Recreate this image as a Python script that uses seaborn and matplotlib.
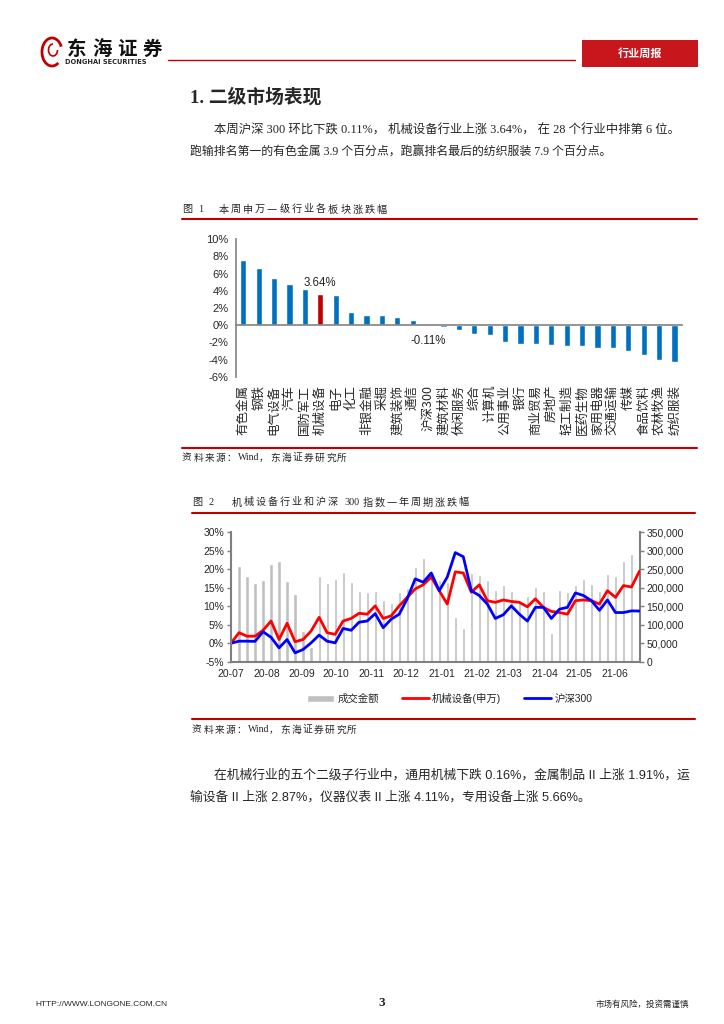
import re
import numpy as np
import pandas as pd
import seaborn as sns
import matplotlib.pyplot as plt
from matplotlib.patches import Rectangle, Arc, Patch
from matplotlib.lines import Line2D

# 图1：本周申万一级行业涨跌幅（%）
industries = ["有色金属", "钢铁", "电气设备", "汽车", "国防军工", "机械设备", "电子", "化工",
              "非银金融", "采掘", "建筑装饰", "通信", "沪深300", "建筑材料", "休闲服务", "综合",
              "计算机", "公用事业", "银行", "商业贸易", "房地产", "轻工制造", "医药生物",
              "家用电器", "交通运输", "传媒", "食品饮料", "农林牧渔", "纺织服装"]
weekly_change = [7.54, 6.62, 5.55, 4.80, 4.26, 3.64, 3.55, 1.52, 1.21, 1.21, 0.98, 0.63,
                 -0.11, -0.27, -0.58, -1.05, -1.16, -1.98, -2.20, -2.20, -2.33, -2.44, -2.44,
                 -2.70, -2.70, -3.06, -3.45, -4.00, -4.26]
highlight = "机械设备"

# 图2：一年周期涨跌幅（%）与成交金额，按周
machinery = [0.0, 2.85, 1.9, 1.9, 3.5, 6.0, 1.0, 5.4, 0.4, 1.0,
             3.3, 7.0, 2.85, 2.4, 6.0, 6.7, 8.1, 7.85, 10.1, 6.7,
             7.4, 10.1, 12.4, 14.7, 15.8, 17.9, 14.2, 10.6, 19.3, 19.0,
             13.8, 15.8, 11.5, 11.05, 11.7, 11.3, 11.05, 9.85, 12.0, 9.7,
             8.6, 8.3, 7.85, 11.5, 11.7, 11.5, 10.6, 14.2, 12.4, 15.6,
             15.2, 19.5]
hs300 = [0.0, 0.55, 0.55, 0.5, 3.1, 1.6, -1.25, 1.0, -2.6, -1.7,
         0.1, 2.2, 0.55, 0.1, 4.0, 3.5, 5.7, 6.0, 8.0, 4.2,
         6.5, 7.85, 12.0, 17.4, 16.5, 19.0, 14.2, 17.9, 24.5, 23.4,
         14.2, 12.9, 10.6, 6.7, 7.7, 10.1, 7.85, 6.0, 9.7, 9.7,
         6.7, 9.2, 9.7, 13.6, 12.9, 11.5, 8.9, 11.7, 8.3, 8.3,
         8.75, 8.7]
turnover = [260000, 231000, 212000, 221000, 263000, 273000, 219000, 182000, 83000, 39000,
            231000, 212000, 224000, 243000, 216000, 192000, 188000, 190000, 167000, 160000,
            189000, 200000, 256000, 280000, 238000, 221000, 215000, 122000, 92000, 240000,
            235000, 220000, 194000, 208000, 192000, 165000, 178000, 202000, 192000, 78000,
            195000, 189000, 208000, 224000, 210000, 192000, 238000, 233000, 273000, 292000]
month_labels = ["20-07", "20-08", "20-09", "20-10", "20-11", "20-12",
                "21-01", "21-02", "21-03", "21-04", "21-05", "21-06"]
start_date = "2020-07-01"

RED = "#C00000"
GRAY = "#868686"
CJK = ["Noto Sans CJK SC", "DejaVu Sans"]
SERIF_CJK = ["Liberation Serif", "Noto Sans CJK SC"]

sns.set_theme(style="white")
plt.rcParams["font.family"] = ["Liberation Sans", "Noto Sans CJK SC"]
plt.rcParams["axes.unicode_minus"] = False

W, H = 724, 1024
fig = plt.figure(figsize=(W / 100, H / 100), dpi=100)
fig.patch.set_facecolor("white")

# 整页的像素坐标层
page = fig.add_axes([0, 0, 1, 1])
page.set_xlim(0, W)
page.set_ylim(H, 0)
page.axis("off")


def px_axes(left, top, right, bottom):
    return fig.add_axes([left / W, 1 - bottom / H, (right - left) / W, (bottom - top) / H])


def spaced_text(x, y, s, size, wide, narrow):
    """中文逐字排版（模仿原文字距），西文词整体输出。"""
    for tok in re.findall(r"[A-Za-z0-9.%]+|\s|.", s):
        if not tok.isspace():
            page.text(x, y, tok, fontsize=size, family=SERIF_CJK, va="center")
        x += wide if ord(tok[0]) > 0x2000 else narrow * len(tok)


# ---- 页眉 ----
page.add_patch(Arc((52, 52), 20, 28, theta1=60, theta2=330, color="#C00000", lw=2))
page.add_patch(Arc((53, 50), 9, 12, theta1=0, theta2=270, color="#C00000", lw=1.2))
for i, ch in enumerate("东海证券"):
    page.text(77 + i * 25, 49, ch, fontsize=14, fontweight="bold", family=CJK,
              ha="center", va="center", color="#111111")
page.text(65, 62.5, "DONGHAI SECURITIES", fontsize=4.8, fontweight="bold",
          family="DejaVu Sans", va="center")
page.plot([168, 575], [60, 60], color=RED, lw=1)
page.add_patch(Rectangle((582, 40), 116, 27, facecolor="#C8161D", edgecolor="none"))
page.text(640, 53.5, "行业周报", color="white", fontsize=8, fontweight="bold",
          family=CJK, ha="center", va="center")

# ---- 正文 ----
page.text(190, 97, "1. 二级市场表现", fontsize=13.5, fontweight="bold", family=SERIF_CJK,
          va="center")
page.text(214, 131, "本周沪深 300 环比下跌 0.11%， 机械设备行业上涨 3.64%， 在 28 个行业中排第 6 位。",
          fontsize=8.9, family=SERIF_CJK, va="center")
page.text(190, 153, "跑输排名第一的有色金属 3.9 个百分点，跑赢排名最后的纺织服装 7.9 个百分点。",
          fontsize=8.6, family=SERIF_CJK, va="center")

spaced_text(182, 209.5, "图 1    本周申万一级行业各板块涨跌幅", 7.3, 12.2, 4.0)
page.plot([182, 697], [219, 219], color=RED, lw=1.5)
page.plot([182, 697], [448, 448], color=RED, lw=1.5)
spaced_text(182, 458, "资料来源：Wind，东海证券研究所", 7, 11.2, 5.2)

spaced_text(192, 502.5, "图 2    机械设备行业和沪深 300 指数一年周期涨跌幅", 7.3, 12.0, 4.6)
page.plot([192, 695], [513, 513], color=RED, lw=1.5)
page.plot([192, 695], [719, 719], color=RED, lw=1.5)
spaced_text(192, 730, "资料来源：Wind，东海证券研究所", 7, 11.2, 5.2)

page.text(214, 775, "在机械行业的五个二级子行业中，通用机械下跌 0.16%，金属制品 II 上涨 1.91%，运",
          fontsize=9.2, va="center")
page.text(190, 797, "输设备 II 上涨 2.87%，仪器仪表 II 上涨 4.11%，专用设备上涨 5.66%。",
          fontsize=9.2, va="center")

# ---- 页脚 ----
page.text(35, 1004, "HTTP://WWW.LONGONE.COM.CN", fontsize=6, va="center",
          family=["Liberation Sans Narrow", "Liberation Sans"])
page.text(382, 1003, "3", fontsize=9.5, fontweight="bold", family="Liberation Serif",
          ha="center", va="center")
page.text(689, 1004, "市场有风险，投资需谨慎", fontsize=6.1, family=CJK, ha="right", va="center")

# ---- 图1 ----
ax1 = px_axes(235.6, 239.3, 682.2, 376.7)
df1 = pd.DataFrame({"industry": industries, "change": weekly_change})
bar_colors = {name: (RED if name == highlight else "#0070C0") for name in industries}
sns.barplot(data=df1, x="industry", y="change", hue="industry", palette=bar_colors,
            saturation=1, width=0.4, legend=False, ax=ax1)
ax1.set_xlim(-0.5, len(industries) - 0.5)
ax1.set_ylim(-6, 10)
ax1.set_yticks(range(-6, 11, 2))
ax1.set_yticklabels([f"{v}%" for v in range(-6, 11, 2)])
ax1.set_xlabel("")
ax1.set_ylabel("")
for side in ["top", "right"]:
    ax1.spines[side].set_visible(False)
ax1.spines["left"].set_color(GRAY)
ax1.spines["bottom"].set_color(GRAY)
ax1.spines["bottom"].set_position(("data", 0))
ax1.set_xticks(np.arange(len(industries) + 1) - 0.5, minor=True)
ax1.tick_params(axis="x", which="major", length=0, pad=43, labelrotation=90, labelsize=9)
ax1.tick_params(axis="x", which="minor", length=3, direction="out", color=GRAY, width=1)
ax1.tick_params(axis="y", length=3, direction="out", color=GRAY, width=1, labelsize=8, pad=2)
for lbl in ax1.get_xticklabels():
    lbl.set_family(CJK)
ax1.set_facecolor("none")
ax1.text(industries.index(highlight), 4.92, "3.64%", ha="center", va="center", fontsize=8.3)
ax1.text(industries.index("沪深300"), -1.88, "-0.11%", ha="center", va="center", fontsize=8.3)

# ---- 图2 ----
line_weeks = np.arange(len(machinery))
bar_weeks = np.arange(1, len(turnover) + 1)
month_pos = (pd.date_range(start_date, periods=len(month_labels), freq="MS")
             - pd.Timestamp(start_date)).days / 7

ax_bar = px_axes(231, 532.3, 639.5, 661.7)
bar_df = pd.DataFrame({"week": bar_weeks, "turnover": turnover})
sns.barplot(data=bar_df, x="week", y="turnover", native_scale=True, color="#C0C0C0",
            saturation=1, width=0.4, errorbar=None, ax=ax_bar)
ax_line = ax_bar.twinx()
ax_bar.yaxis.tick_right()
ax_line.yaxis.tick_left()

line_df = pd.DataFrame({"week": line_weeks, "机械设备(申万)": machinery, "沪深300": hs300})
line_long = line_df.melt(id_vars="week", var_name="series", value_name="pct")
sns.lineplot(data=line_long, x="week", y="pct", hue="series",
             palette={"机械设备(申万)": "#FF0000", "沪深300": "#0000FF"},
             linewidth=2, legend=False, ax=ax_line)
for ln in ax_line.get_lines():
    ln.set_solid_joinstyle("round")
    ln.set_solid_capstyle("round")

ax_bar.set_xlim(0, len(machinery) - 1)
ax_bar.set_ylim(0, 350000)
ax_bar.set_yticks(range(0, 350001, 50000))
ax_bar.set_yticklabels([f"{v:,}" for v in range(0, 350001, 50000)])
ax_line.set_ylim(-5, 30)
ax_line.set_yticks(range(-5, 31, 5))
ax_line.set_yticklabels([f"{v}%" for v in range(-5, 31, 5)])
ax_bar.set_xticks(month_pos)
ax_bar.set_xticklabels(month_labels)
for a in (ax_bar, ax_line):
    a.set_xlabel("")
    a.set_ylabel("")
    a.spines["top"].set_visible(False)
ax_bar.spines["left"].set_visible(False)
ax_line.spines["right"].set_visible(False)
ax_line.spines["bottom"].set_visible(False)
ax_bar.spines["right"].set_color("#7F7F7F")
ax_bar.spines["bottom"].set_color("#7F7F7F")
ax_line.spines["left"].set_color("#7F7F7F")
for sp in (ax_bar.spines["right"], ax_bar.spines["bottom"], ax_line.spines["left"]):
    sp.set_linewidth(1.5)
ax_bar.tick_params(axis="both", length=3, direction="out", color="#7F7F7F", width=1,
                   labelsize=7.5, pad=2)
ax_line.tick_params(axis="y", length=3, direction="out", color="#7F7F7F", width=1,
                    labelsize=7.5, pad=2)
ax_bar.set_facecolor("none")

handles = [Patch(facecolor="#C0C0C0", label="成交金额"),
           Line2D([], [], color="#FF0000", lw=2, label="机械设备(申万)"),
           Line2D([], [], color="#0000FF", lw=2, label="沪深300")]
fig.legend(handles=handles, loc="center", bbox_to_anchor=(450 / W, 1 - 698.6 / H), ncol=3,
           frameon=False, fontsize=7.5, handlelength=2.6, handleheight=0.7,
           columnspacing=2.2, handletextpad=0.3)

fig.savefig("out.png", dpi=100, facecolor="white")
